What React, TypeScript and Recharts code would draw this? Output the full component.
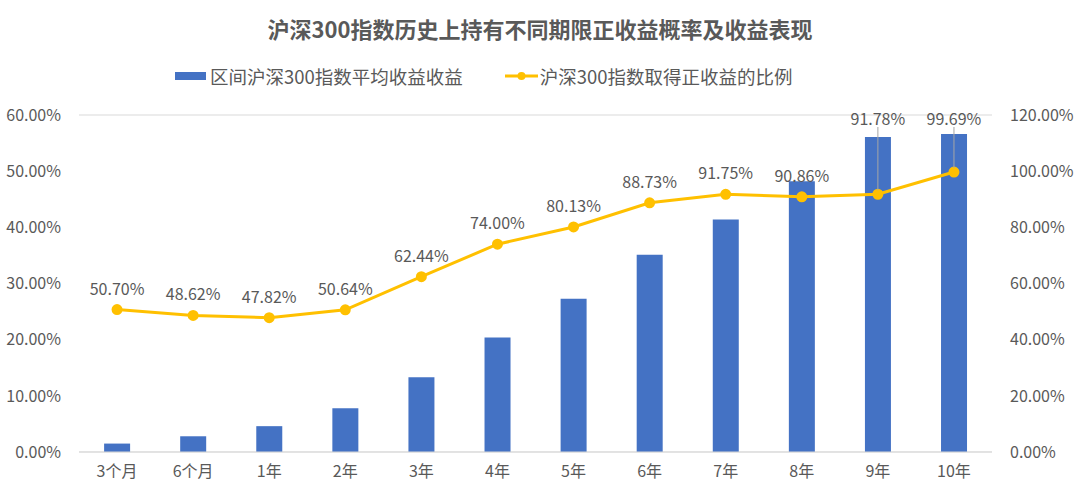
import React from 'react';
import { ComposedChart, Bar, Line, XAxis, YAxis, CartesianGrid } from 'recharts';

const categories = ['3个月', '6个月', '1年', '2年', '3年', '4年', '5年', '6年', '7年', '8年', '9年', '10年'];
const avgReturn = [1.5, 2.8, 4.6, 7.8, 13.3, 20.4, 27.3, 35.1, 41.4, 48.2, 56.1, 56.6];
const positiveRatio = [50.7, 48.62, 47.82, 50.64, 62.44, 74.0, 80.13, 88.73, 91.75, 90.86, 91.78, 99.69];
const leftTicks = [0, 10, 20, 30, 40, 50, 60];
const rightTicks = [0, 20, 40, 60, 80, 100, 120];

const data = categories.map((name, i) => ({ name, avg: avgReturn[i], ratio: positiveRatio[i] }));

const FONT = '"Noto Sans CJK SC", "Noto Sans", sans-serif';
const GRAY = '#595959';
const BLUE = '#4472C4';
const GOLD = '#FFC000';

const pct = (v: number) => `${v.toFixed(2)}%`;

// last two labels sit above the bars, tied back to their points
const RatioLabel = (props: any) => {
  const { x, y, value, index } = props;
  if (index >= 10) {
    const ly = 118;
    return (
      <g>
        <line x1={x} y1={ly + 9} x2={x} y2={y - 4} stroke="#A6A6A6" strokeWidth={1} />
        <text x={x} y={ly} textAnchor="middle" dominantBaseline="central" fill={GRAY} fontSize={16} fontFamily={FONT}>
          {pct(value)}
        </text>
      </g>
    );
  }
  return (
    <text x={x} y={y - 22} textAnchor="middle" dominantBaseline="central" fill={GRAY} fontSize={16} fontFamily={FONT}>
      {pct(value)}
    </text>
  );
};

export default function App() {
  return (
    <div style={{ position: 'absolute', left: 0, top: 0, width: 1080, height: 493, background: '#fff', fontFamily: FONT }}>
      <div style={{ position: 'absolute', top: 12, left: 0, width: 1080, textAlign: 'center', fontSize: 22, fontWeight: 'bold', color: GRAY }}>
        沪深300指数历史上持有不同期限正收益概率及收益表现
      </div>
      <div style={{ position: 'absolute', top: 63, left: 175, display: 'flex', alignItems: 'center', fontSize: 18.5, color: GRAY, whiteSpace: 'nowrap' }}>
        <span style={{ display: 'inline-block', width: 31, height: 8, background: BLUE, marginRight: 4 }} />
        <span style={{ marginRight: 42 }}>区间沪深300指数平均收益收益</span>
        <svg width={33} height={12} style={{ marginRight: 2 }}>
          <line x1={0} y1={6} x2={33} y2={6} stroke={GOLD} strokeWidth={3} />
          <circle cx={16.5} cy={6} r={4} fill={GOLD} />
        </svg>
        <span>沪深300指数取得正收益的比例</span>
      </div>
      <ComposedChart width={1080} height={493} data={data} margin={{ top: 115, right: 0, bottom: 0, left: 0 }} barCategoryGap="33%">
        <CartesianGrid vertical={false} stroke="#D9D9D9" />
        <XAxis
          dataKey="name"
          height={41}
          axisLine={{ stroke: '#D9D9D9' }}
          tickLine={false}
          tickSize={0}
          tickMargin={14}
          tick={{ fill: GRAY, fontSize: 16, fontFamily: FONT }}
        />
        <YAxis
          yAxisId="left"
          width={79}
          domain={[0, 60]}
          ticks={leftTicks}
          tickFormatter={pct}
          axisLine={false}
          tickLine={false}
          tickSize={0}
          tickMargin={18}
          tick={{ fill: GRAY, fontSize: 16, fontFamily: FONT }}
        />
        <YAxis
          yAxisId="right"
          orientation="right"
          width={88}
          domain={[0, 120]}
          ticks={rightTicks}
          tickFormatter={pct}
          axisLine={false}
          tickLine={false}
          tickSize={0}
          tickMargin={18}
          tick={{ fill: GRAY, fontSize: 16, fontFamily: FONT }}
        />
        <Bar yAxisId="left" dataKey="avg" fill={BLUE} isAnimationActive={false} />
        <Line
          yAxisId="right"
          dataKey="ratio"
          stroke={GOLD}
          strokeWidth={3}
          dot={{ r: 4, fill: GOLD, stroke: GOLD }}
          isAnimationActive={false}
          label={<RatioLabel />}
        />
      </ComposedChart>
    </div>
  );
}
